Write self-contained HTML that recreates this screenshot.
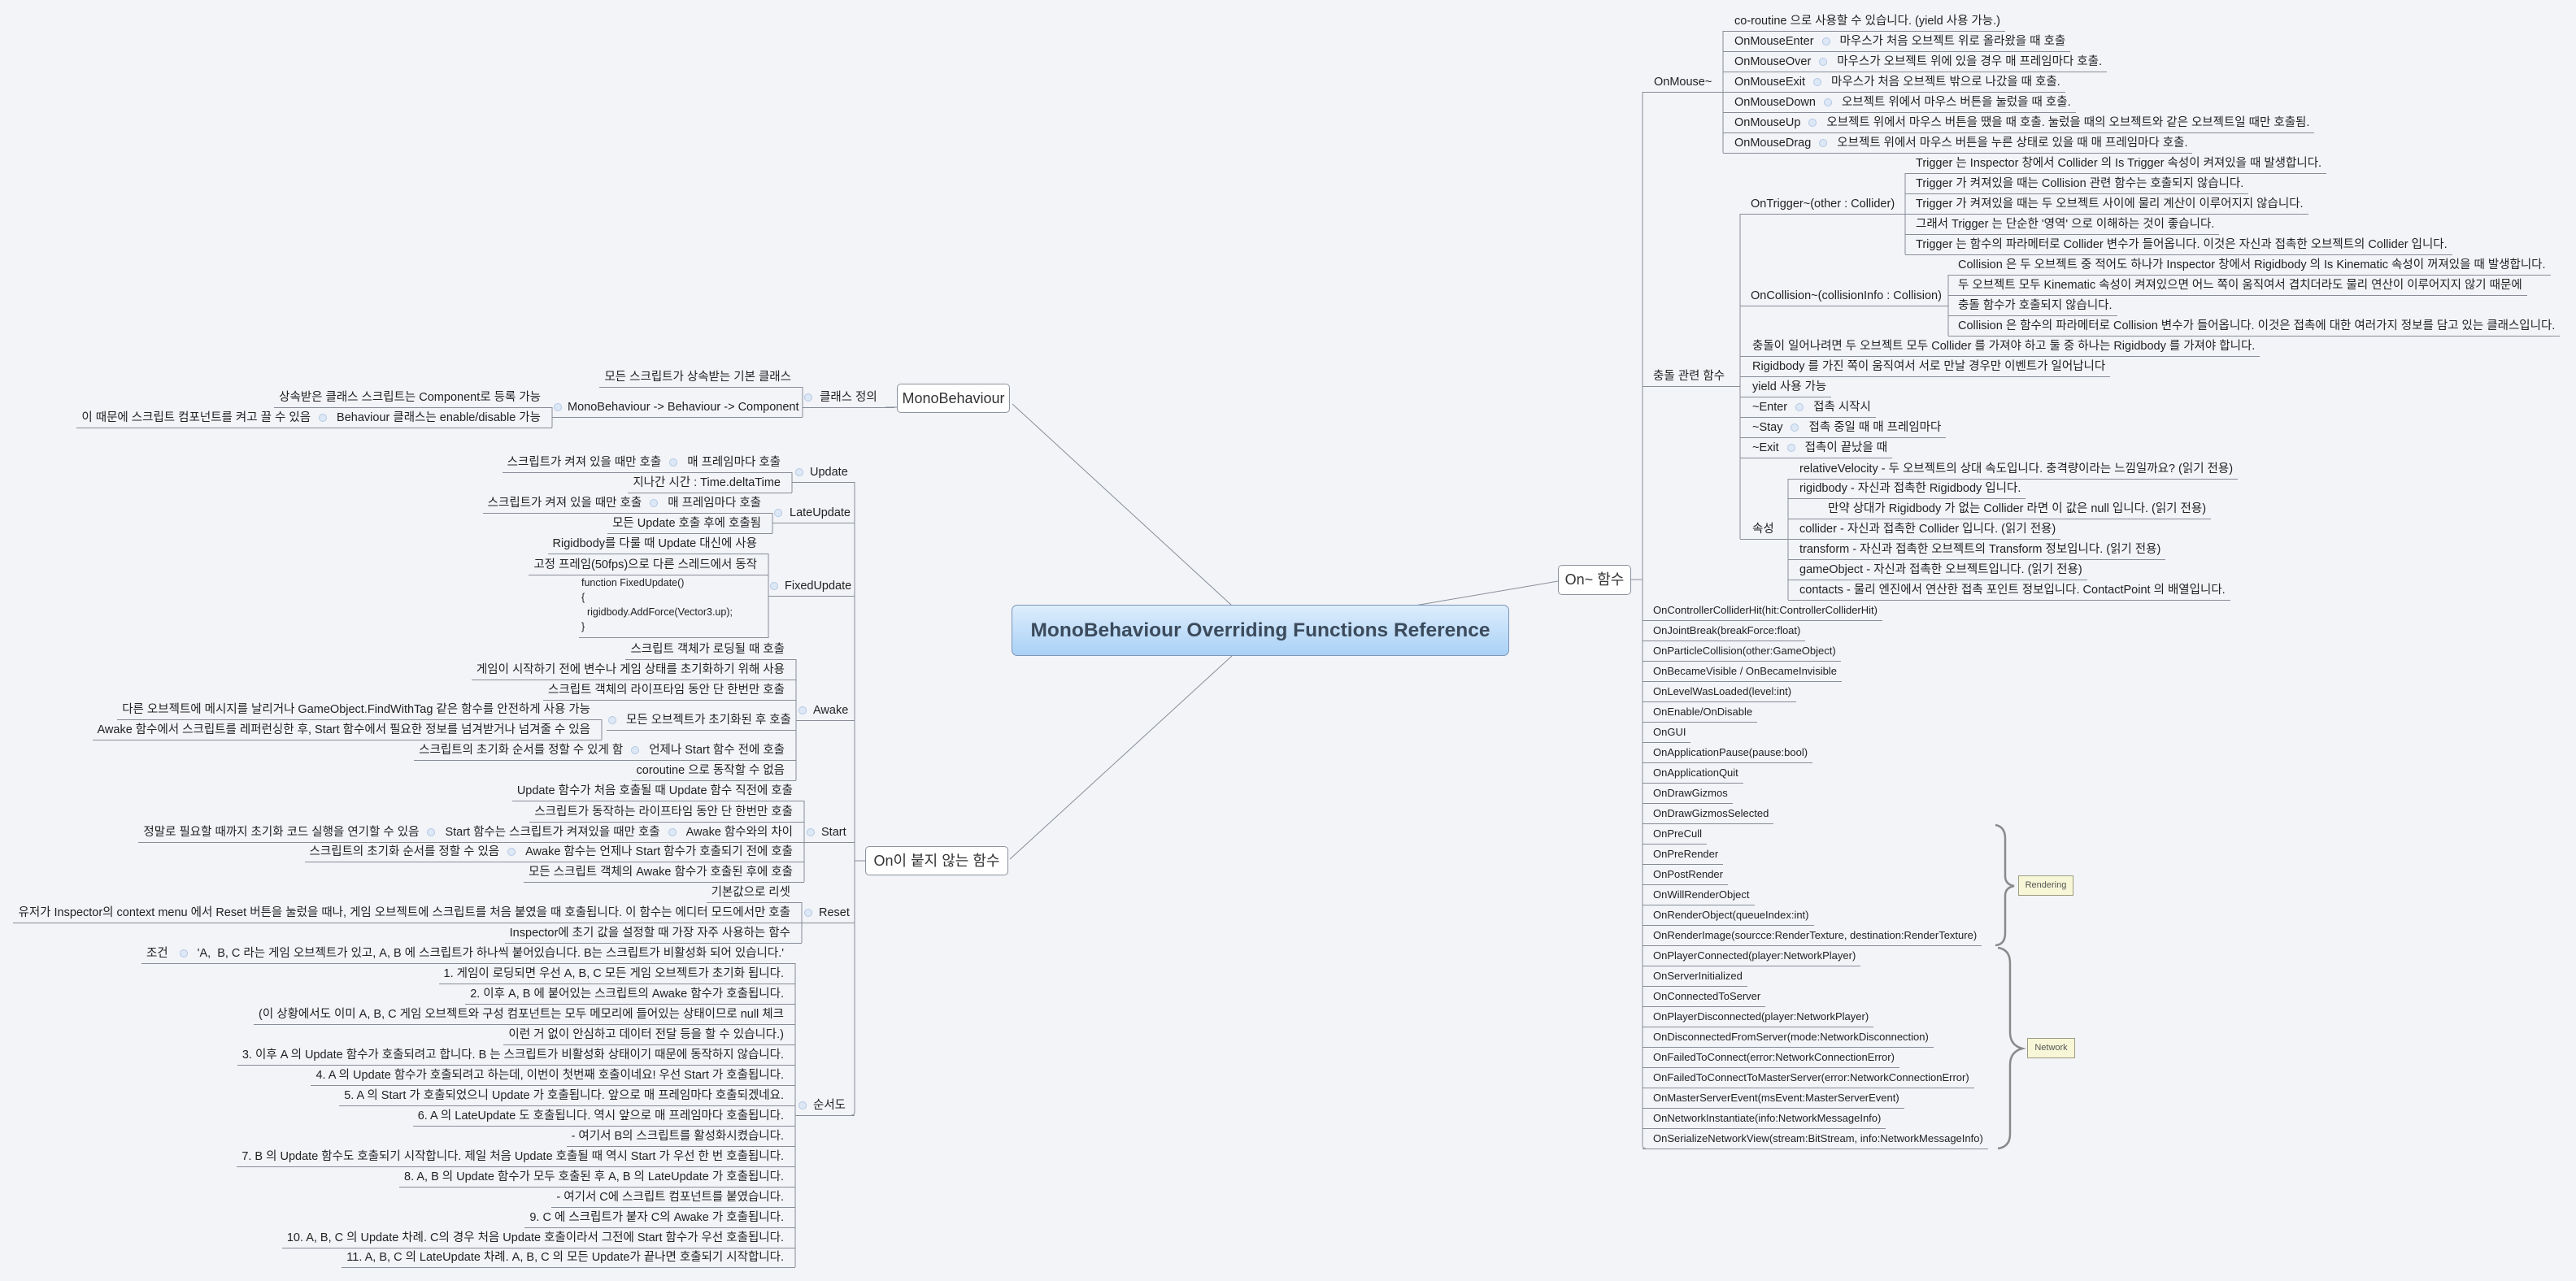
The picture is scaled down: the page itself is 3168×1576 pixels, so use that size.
<!DOCTYPE html>
<html><head><meta charset="utf-8">
<style>
html,body{margin:0;padding:0;}
body{width:3168px;height:1576px;overflow:hidden;background:#f3f4f8;position:relative;font-family:"Liberation Sans","Noto Sans CJK KR",sans-serif;color:#222;}
.r,.l,.p{position:absolute;height:24px;line-height:24px;font-size:14.5px;white-space:nowrap;border-bottom:1px solid #878d97;box-sizing:content-box;}
.r{padding:0 6px 0 14px;}
.r.b{font-size:13px;}
.l{padding:0 14px 0 6px;text-align:right;}
.p{box-sizing:border-box;height:25px;padding-left:2px;}
.c{display:inline-block;width:8px;height:8px;border-radius:50%;background:#dde8f6;border:1px solid #b3c8e3;vertical-align:-1px;margin:0 12px 0 10px;}
.p .c{margin:0 7px 0 0;}
.box{position:absolute;background:#fff;border:1px solid #8b939e;border-radius:5px;box-sizing:border-box;text-align:center;white-space:nowrap;color:#333;}
.tag{position:absolute;background:#f7f7d8;border:1px solid #9c9c80;font-size:11px;line-height:23px;height:25px;box-sizing:border-box;text-align:center;color:#555;}
svg{position:absolute;left:0;top:0;}
</style></head><body>
<svg width="3168" height="1576" stroke="#878d97" stroke-width="1" fill="none">
<line x1="1245" y1="497" x2="1515" y2="745"/>
<line x1="1740" y1="745" x2="1916" y2="715"/>
<line x1="1515" y1="807" x2="1242" y2="1057"/>
<path d="M2020 113 V1409 Q2020 1413 2024 1413"/>
<line x1="2006" y1="713" x2="2020" y2="713"/>
<path d="M2119 38 V188"/>
<path d="M2140 263 V663"/>
<path d="M2343 213 V313"/>
<path d="M2396 338 V413"/>
<path d="M2199 589 V738"/>
<line x1="1089" y1="501" x2="1103" y2="501"/>
<path d="M987 476 V513"/>
<path d="M679 501 V526"/>
<path d="M1051 593 V1368 Q1051 1372 1047 1372"/>
<line x1="1051" y1="1059" x2="1064" y2="1059"/>
<path d="M974 581 V606"/>
<path d="M950 631 V656"/>
<path d="M945 681 V785"/>
<path d="M979 811 V960"/>
<path d="M740 885 V910"/>
<path d="M989 985 V1085"/>
<path d="M986 1110 V1160"/>
<path d="M978 1185 V1559"/>
<g stroke="#8a8a8a" stroke-width="2.5">
<path d="M2454 1015 Q2466 1017 2466 1032 V1078 Q2466 1088 2477 1090 Q2466 1092 2466 1102 V1148 Q2466 1162 2454 1163"/>
<path d="M2457 1166 Q2472 1168 2472 1185 V1270 Q2472 1286 2487 1290 Q2472 1294 2472 1310 V1395 Q2472 1411 2457 1413"/>
</g>
</svg>

<div style="position:absolute;left:1244px;top:744px;width:612px;height:63px;box-sizing:border-box;border:1px solid #7d97b8;border-radius:7px;background:linear-gradient(#ddedfc,#a9d1f6);text-align:center;line-height:61px;font-size:24.5px;font-weight:bold;color:#3c4b5c;white-space:nowrap;">MonoBehaviour Overriding Functions Reference</div>

<div class="box" style="left:1103px;top:472px;width:139px;height:36px;line-height:34px;font-size:18px;">MonoBehaviour</div>
<div class="box" style="left:1916px;top:695px;width:90px;height:37px;line-height:35px;font-size:18px;">On~ 함수</div>
<div class="box" style="left:1064px;top:1041px;width:176px;height:36px;line-height:34px;font-size:18px;">On이 붙지 않는 함수</div>

<div class="p" style="left:2020px;top:89px;width:99px;padding-left:14px;">OnMouse~</div>
<div class="r" style="left:2119px;top:14px;">co-routine 으로 사용할 수 있습니다. (yield 사용 가능.)</div>
<div class="r" style="left:2119px;top:39px;">OnMouseEnter<i class="c"></i>마우스가 처음 오브젝트 위로 올라왔을 때 호출</div>
<div class="r" style="left:2119px;top:64px;">OnMouseOver<i class="c"></i>마우스가 오브젝트 위에 있을 경우 매 프레임마다 호출.</div>
<div class="r" style="left:2119px;top:89px;">OnMouseExit<i class="c"></i>마우스가 처음 오브젝트 밖으로 나갔을 때 호출.</div>
<div class="r" style="left:2119px;top:114px;">OnMouseDown<i class="c"></i>오브젝트 위에서 마우스 버튼을 눌렀을 때 호출.</div>
<div class="r" style="left:2119px;top:139px;">OnMouseUp<i class="c"></i>오브젝트 위에서 마우스 버튼을 땠을 때 호출. 눌렀을 때의 오브젝트와 같은 오브젝트일 때만 호출됨.</div>
<div class="r" style="left:2119px;top:164px;">OnMouseDrag<i class="c"></i>오브젝트 위에서 마우스 버튼을 누른 상태로 있을 때 매 프레임마다 호출.</div>

<div class="p" style="left:2020px;top:451px;width:120px;padding-left:13px;">충돌 관련 함수</div>
<div class="p" style="left:2140px;top:239px;width:203px;padding-left:13px;">OnTrigger~(other : Collider)</div>
<div class="r" style="left:2343px;top:189px;padding-left:13px;">Trigger 는 Inspector 창에서 Collider 의 Is Trigger 속성이 켜져있을 때 발생합니다.</div>
<div class="r" style="left:2343px;top:214px;padding-left:13px;">Trigger 가 켜져있을 때는 Collision 관련 함수는 호출되지 않습니다.</div>
<div class="r" style="left:2343px;top:239px;padding-left:13px;">Trigger 가 켜져있을 때는 두 오브젝트 사이에 물리 계산이 이루어지지 않습니다.</div>
<div class="r" style="left:2343px;top:264px;padding-left:13px;">그래서 Trigger 는 단순한 '영역' 으로 이해하는 것이 좋습니다.</div>
<div class="r" style="left:2343px;top:289px;padding-left:13px;">Trigger 는 함수의 파라메터로 Collider 변수가 들어옵니다. 이것은 자신과 접촉한 오브젝트의 Collider 입니다.</div>

<div class="p" style="left:2140px;top:352px;width:256px;padding-left:13px;">OnCollision~(collisionInfo : Collision)</div>
<div class="r" style="left:2396px;top:314px;padding-left:12px;">Collision 은 두 오브젝트 중 적어도 하나가 Inspector 창에서 Rigidbody 의 Is Kinematic 속성이 꺼져있을 때 발생합니다.</div>
<div class="r" style="left:2396px;top:339px;padding-left:12px;">두 오브젝트 모두 Kinematic 속성이 켜져있으면 어느 쪽이 움직여서 겹치더라도 물리 연산이 이루어지지 않기 때문에</div>
<div class="r" style="left:2396px;top:364px;padding-left:12px;">충돌 함수가 호출되지 않습니다.</div>
<div class="r" style="left:2396px;top:389px;padding-left:12px;">Collision 은 함수의 파라메터로 Collision 변수가 들어옵니다. 이것은 접촉에 대한 여러가지 정보를 담고 있는 클래스입니다.</div>

<div class="r" style="left:2140px;top:414px;padding-left:15px;">충돌이 일어나려면 두 오브젝트 모두 Collider 를 가져야 하고 둘 중 하나는 Rigidbody 를 가져야 합니다.</div>
<div class="r" style="left:2140px;top:439px;padding-left:15px;">Rigidbody 를 가진 쪽이 움직여서 서로 만날 경우만 이벤트가 일어납니다</div>
<div class="r" style="left:2140px;top:464px;padding-left:15px;">yield 사용 가능</div>
<div class="r" style="left:2140px;top:489px;padding-left:15px;">~Enter<i class="c"></i>접촉 시작시</div>
<div class="r" style="left:2140px;top:514px;padding-left:15px;">~Stay<i class="c"></i>접촉 중일 때 매 프레임마다</div>
<div class="r" style="left:2140px;top:539px;padding-left:15px;">~Exit<i class="c"></i>접촉이 끝났을 때</div>
<div class="p" style="left:2140px;top:639px;width:59px;padding-left:15px;">속성</div>
<div class="r" style="left:2199px;top:565px;">relativeVelocity - 두 오브젝트의 상대 속도입니다. 충격량이라는 느낌일까요? (읽기 전용)</div>
<div class="r" style="left:2199px;top:589px;">rigidbody - 자신과 접촉한 Rigidbody 입니다.</div>
<div class="r" style="left:2199px;top:614px;padding-left:49px;">만약 상대가 Rigidbody 가 없는 Collider 라면 이 값은 null 입니다. (읽기 전용)</div>
<div class="r" style="left:2199px;top:639px;">collider - 자신과 접촉한 Collider 입니다. (읽기 전용)</div>
<div class="r" style="left:2199px;top:664px;">transform - 자신과 접촉한 오브젝트의 Transform 정보입니다. (읽기 전용)</div>
<div class="r" style="left:2199px;top:689px;">gameObject - 자신과 접촉한 오브젝트입니다. (읽기 전용)</div>
<div class="r" style="left:2199px;top:714px;">contacts - 물리 엔진에서 연산한 접촉 포인트 정보입니다. ContactPoint 의 배열입니다.</div>

<div class="r b" style="left:2020px;top:739px;padding-left:13px;">OnControllerColliderHit(hit:ControllerColliderHit)</div>
<div class="r b" style="left:2020px;top:764px;padding-left:13px;">OnJointBreak(breakForce:float)</div>
<div class="r b" style="left:2020px;top:789px;padding-left:13px;">OnParticleCollision(other:GameObject)</div>
<div class="r b" style="left:2020px;top:814px;padding-left:13px;">OnBecameVisible / OnBecameInvisible</div>
<div class="r b" style="left:2020px;top:839px;padding-left:13px;">OnLevelWasLoaded(level:int)</div>
<div class="r b" style="left:2020px;top:864px;padding-left:13px;">OnEnable/OnDisable</div>
<div class="r b" style="left:2020px;top:889px;padding-left:13px;">OnGUI</div>
<div class="r b" style="left:2020px;top:914px;padding-left:13px;">OnApplicationPause(pause:bool)</div>
<div class="r b" style="left:2020px;top:939px;padding-left:13px;">OnApplicationQuit</div>
<div class="r b" style="left:2020px;top:964px;padding-left:13px;">OnDrawGizmos</div>
<div class="r b" style="left:2020px;top:989px;padding-left:13px;">OnDrawGizmosSelected</div>
<div class="r b" style="left:2020px;top:1014px;padding-left:13px;">OnPreCull</div>
<div class="r b" style="left:2020px;top:1039px;padding-left:13px;">OnPreRender</div>
<div class="r b" style="left:2020px;top:1064px;padding-left:13px;">OnPostRender</div>
<div class="r b" style="left:2020px;top:1089px;padding-left:13px;">OnWillRenderObject</div>
<div class="r b" style="left:2020px;top:1114px;padding-left:13px;">OnRenderObject(queueIndex:int)</div>
<div class="r b" style="left:2020px;top:1139px;padding-left:13px;">OnRenderImage(sourcce:RenderTexture, destination:RenderTexture)</div>
<div class="r b" style="left:2020px;top:1164px;padding-left:13px;">OnPlayerConnected(player:NetworkPlayer)</div>
<div class="r b" style="left:2020px;top:1189px;padding-left:13px;">OnServerInitialized</div>
<div class="r b" style="left:2020px;top:1214px;padding-left:13px;">OnConnectedToServer</div>
<div class="r b" style="left:2020px;top:1239px;padding-left:13px;">OnPlayerDisconnected(player:NetworkPlayer)</div>
<div class="r b" style="left:2020px;top:1264px;padding-left:13px;">OnDisconnectedFromServer(mode:NetworkDisconnection)</div>
<div class="r b" style="left:2020px;top:1289px;padding-left:13px;">OnFailedToConnect(error:NetworkConnectionError)</div>
<div class="r b" style="left:2020px;top:1314px;padding-left:13px;">OnFailedToConnectToMasterServer(error:NetworkConnectionError)</div>
<div class="r b" style="left:2020px;top:1339px;padding-left:13px;">OnMasterServerEvent(msEvent:MasterServerEvent)</div>
<div class="r b" style="left:2020px;top:1364px;padding-left:13px;">OnNetworkInstantiate(info:NetworkMessageInfo)</div>
<div class="r b" style="left:2020px;top:1389px;padding-left:13px;">OnSerializeNetworkView(stream:BitStream, info:NetworkMessageInfo)</div>

<div class="tag" style="left:2482px;top:1077px;width:68px;">Rendering</div>
<div class="tag" style="left:2493px;top:1277px;width:59px;">Network</div>

<div class="p" style="left:987px;top:477px;width:113px;"><i class="c" style="margin-right:9px"></i>클래스 정의</div>
<div class="l" style="right:2181px;top:452px;">모든 스크립트가 상속받는 기본 클래스</div>
<div class="p" style="left:679px;top:489px;width:308px;"><i class="c"></i>MonoBehaviour -&gt; Behaviour -&gt; Component</div>
<div class="l" style="right:2489px;top:477px;">상속받은 클래스 스크립트는 Component로 등록 가능</div>
<div class="l" style="right:2489px;top:502px;">이 때문에 스크립트 컴포넌트를 켜고 끌 수 있음<i class="c"></i>Behaviour 클래스는 enable/disable 가능</div>

<div class="p" style="left:974px;top:569px;width:77px;"><i class="c" style="margin-left:2px;margin-right:8px"></i>Update</div>
<div class="l" style="right:2194px;top:557px;">스크립트가 켜져 있을 때만 호출<i class="c"></i>매 프레임마다 호출</div>
<div class="l" style="right:2194px;top:582px;">지나간 시간 : Time.deltaTime</div>

<div class="p" style="left:950px;top:619px;width:101px;"><i class="c" style="margin-right:9px"></i>LateUpdate</div>
<div class="l" style="right:2218px;top:607px;">스크립트가 켜져 있을 때만 호출<i class="c"></i>매 프레임마다 호출</div>
<div class="l" style="right:2218px;top:632px;">모든 Update 호출 후에 호출됨</div>

<div class="p" style="left:945px;top:709px;width:106px;"><i class="c" style="margin-right:8px"></i>FixedUpdate</div>
<div class="l" style="right:2223px;top:657px;">Rigidbody를 다룰 때 Update 대신에 사용</div>
<div class="l" style="right:2223px;top:683px;">고정 프레임(50fps)으로 다른 스레드에서 동작</div>
<div style="position:absolute;left:712px;top:708px;width:233px;height:77px;border-bottom:1px solid #878d97;font-size:12.5px;line-height:18px;padding-left:3px;box-sizing:border-box;white-space:nowrap;">function FixedUpdate()<br>{<br>&nbsp;&nbsp;rigidbody.AddForce(Vector3.up);<br>}</div>

<div class="p" style="left:979px;top:862px;width:72px;"><i class="c" style="margin-left:1px;margin-right:8px"></i>Awake</div>
<div class="l" style="right:2189px;top:787px;">스크립트 객체가 로딩될 때 호출</div>
<div class="l" style="right:2189px;top:812px;">게임이 시작하기 전에 변수나 게임 상태를 초기화하기 위해 사용</div>
<div class="l" style="right:2189px;top:837px;">스크립트 객체의 라이프타임 동안 단 한번만 호출</div>
<div class="l" style="right:2189px;top:874px;width:219px;padding-left:0;"><i class="c" style="margin-left:2px"></i>모든 오브젝트가 초기화된 후 호출</div>
<div class="l" style="right:2428px;top:861px;">다른 오브젝트에 메시지를 날리거나 GameObject.FindWithTag 같은 함수를 안전하게 사용 가능</div>
<div class="l" style="right:2428px;top:886px;">Awake 함수에서 스크립트를 레퍼런싱한 후, Start 함수에서 필요한 정보를 넘겨받거나 넘겨줄 수 있음</div>
<div class="l" style="right:2189px;top:911px;">스크립트의 초기화 순서를 정할 수 있게 함<i class="c"></i>언제나 Start 함수 전에 호출</div>
<div class="l" style="right:2189px;top:936px;">coroutine 으로 동작할 수 없음</div>

<div class="p" style="left:989px;top:1012px;width:62px;"><i class="c" style="margin-left:1px;margin-right:8px"></i>Start</div>
<div class="l" style="right:2179px;top:961px;">Update 함수가 처음 호출될 때 Update 함수 직전에 호출</div>
<div class="l" style="right:2179px;top:987px;">스크립트가 동작하는 라이프타임 동안 단 한번만 호출</div>
<div class="l" style="right:2179px;top:1012px;">정말로 필요할 때까지 초기화 코드 실행을 연기할 수 있음<i class="c"></i>Start 함수는 스크립트가 켜져있을 때만 호출<i class="c"></i>Awake 함수와의 차이</div>
<div class="l" style="right:2179px;top:1036px;">스크립트의 초기화 순서를 정할 수 있음<i class="c"></i>Awake 함수는 언제나 Start 함수가 호출되기 전에 호출</div>
<div class="l" style="right:2179px;top:1061px;">모든 스크립트 객체의 Awake 함수가 호출된 후에 호출</div>

<div class="p" style="left:986px;top:1111px;width:65px;"><i class="c" style="margin-left:1px;margin-right:8px"></i>Reset</div>
<div class="l" style="right:2182px;top:1086px;">기본값으로 리셋</div>
<div class="l" style="right:2182px;top:1111px;">유저가 Inspector의 context menu 에서 Reset 버튼을 눌렀을 때나, 게임 오브젝트에 스크립트를 처음 붙였을 때 호출됩니다. 이 함수는 에디터 모드에서만 호출</div>
<div class="l" style="right:2182px;top:1136px;">Inspector에 초기 값을 설정할 때 가장 자주 사용하는 함수</div>

<div class="p" style="left:978px;top:1348px;width:73px;"><i class="c" style="margin-left:2px;margin-right:8px"></i>순서도</div>
<div class="l" style="right:2190px;top:1161px;">조건 <i class="c"></i>'A,&nbsp; B, C 라는 게임 오브젝트가 있고, A, B 에 스크립트가 하나씩 붙어있습니다. B는 스크립트가 비활성화 되어 있습니다.'</div>
<div class="l" style="right:2190px;top:1186px;">1. 게임이 로딩되면 우선 A, B, C 모든 게임 오브젝트가 초기화 됩니다.</div>
<div class="l" style="right:2190px;top:1211px;">2. 이후 A, B 에 붙어있는 스크립트의 Awake 함수가 호출됩니다.</div>
<div class="l" style="right:2190px;top:1236px;">(이 상황에서도 이미 A, B, C 게임 오브젝트와 구성 컴포넌트는 모두 메모리에 들어있는 상태이므로 null 체크</div>
<div class="l" style="right:2190px;top:1261px;">이런 거 없이 안심하고 데이터 전달 등을 할 수 있습니다.)</div>
<div class="l" style="right:2190px;top:1286px;">3. 이후 A 의 Update 함수가 호출되려고 합니다. B 는 스크립트가 비활성화 상태이기 때문에 동작하지 않습니다.</div>
<div class="l" style="right:2190px;top:1311px;">4. A 의 Update 함수가 호출되려고 하는데, 이번이 첫번째 호출이네요! 우선 Start 가 호출됩니다.</div>
<div class="l" style="right:2190px;top:1336px;">5. A 의 Start 가 호출되었으니 Update 가 호출됩니다. 앞으로 매 프레임마다 호출되겠네요.</div>
<div class="l" style="right:2190px;top:1361px;">6. A 의 LateUpdate 도 호출됩니다. 역시 앞으로 매 프레임마다 호출됩니다.</div>
<div class="l" style="right:2190px;top:1386px;">- 여기서 B의 스크립트를 활성화시켰습니다.</div>
<div class="l" style="right:2190px;top:1411px;">7. B 의 Update 함수도 호출되기 시작합니다. 제일 처음 Update 호출될 때 역시 Start 가 우선 한 번 호출됩니다.</div>
<div class="l" style="right:2190px;top:1436px;">8. A, B 의 Update 함수가 모두 호출된 후 A, B 의 LateUpdate 가 호출됩니다.</div>
<div class="l" style="right:2190px;top:1461px;">- 여기서 C에 스크립트 컴포넌트를 붙였습니다.</div>
<div class="l" style="right:2190px;top:1486px;">9. C 에 스크립트가 붙자 C의 Awake 가 호출됩니다.</div>
<div class="l" style="right:2190px;top:1511px;">10. A, B, C 의 Update 차례. C의 경우 처음 Update 호출이라서 그전에 Start 함수가 우선 호출됩니다.</div>
<div class="l" style="right:2190px;top:1535px;">11. A, B, C 의 LateUpdate 차례. A, B, C 의 모든 Update가 끝나면 호출되기 시작합니다.</div>
</body></html>
